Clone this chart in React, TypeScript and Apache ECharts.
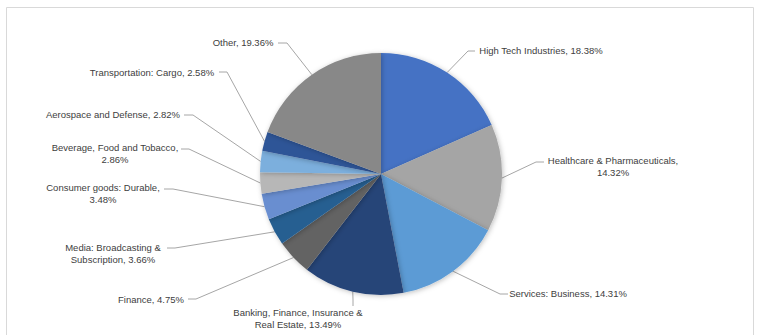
import React, { useEffect, useRef } from "react";
import * as echarts from "echarts";

const categories: string[] = [
  "High Tech Industries",
  "Healthcare & Pharmaceuticals",
  "Services: Business",
  "Banking, Finance, Insurance & Real Estate",
  "Finance",
  "Media: Broadcasting & Subscription",
  "Consumer goods: Durable",
  "Beverage, Food and Tobacco",
  "Aerospace and Defense",
  "Transportation: Cargo",
  "Other",
];

const shares: number[] = [18.38, 14.32, 14.31, 13.49, 4.75, 3.66, 3.48, 2.86, 2.82, 2.58, 19.36];

const sliceColors: string[] = [
  "#4472C4",
  "#A5A5A5",
  "#5B9BD5",
  "#264478",
  "#636363",
  "#255E91",
  "#698ED0",
  "#B7B7B7",
  "#7CAFDD",
  "#2F5597",
  "#888888",
];

// where each label wraps onto a second line ("" = break before value, null = no wrap)
const wrapAfter: (string | null)[] = [
  null,
  "",
  null,
  "Insurance &",
  null,
  "Broadcasting &",
  "",
  "",
  null,
  null,
  null,
];

// label layout: text centre (cx, cy), line end (ax, ay), elbow (ex, ey)
const labelSpots: number[][] = [
  [541, 50, 475, 51, 468, 51],
  [613, 166, 544, 162, 536, 162],
  [568, 293, 508, 294, 500, 294],
  [298, 318, 353, 306, 353, 300],
  [151, 299, 188, 299, 196, 299],
  [113, 253, 167, 248, 175, 248],
  [103, 193, 164, 189, 173, 189],
  [115, 153, 181, 149, 189, 149],
  [113, 114, 184, 115, 193, 115],
  [152, 72, 219, 72, 227, 72],
  [243, 42, 278, 43, 287, 43],
];

function labelText(i: number): string {
  const name = categories[i];
  const val = shares[i].toFixed(2) + "%";
  const w = wrapAfter[i];
  if (w === null) return `${name}, ${val}`;
  if (w === "") return `${name},\n${val}`;
  const k = name.indexOf(w) + w.length;
  return `${name.slice(0, k)}\n${name.slice(k).trim()}, ${val}`;
}

export default function App() {
  const ref = useRef<HTMLDivElement>(null);
  useEffect(() => {
    document.body.style.margin = "0";
    if (!ref.current) return;
    const chart = echarts.init(ref.current, null, { renderer: "svg" });
    chart.setOption({
      animation: false,
      backgroundColor: "#ffffff",
      graphic: [
        {
          type: "rect",
          shape: { x: 6.5, y: 7.5, width: 747, height: 340 },
          style: { fill: "none", stroke: "#D9D9D9", lineWidth: 1 },
          silent: true,
        },
      ],
      series: [
        {
          type: "pie",
          center: [381, 174],
          radius: 121,
          startAngle: 90,
          clockwise: true,
          avoidLabelOverlap: false,
          data: categories.map((c, i) => ({
            name: c,
            value: shares[i],
            itemStyle: { color: sliceColors[i] },
          })),
          itemStyle: {
            borderWidth: 0,
            shadowBlur: 5,
            shadowColor: "rgba(0,0,0,0.25)",
            shadowOffsetX: 1,
            shadowOffsetY: 1,
          },
          label: {
            show: true,
            position: "outside",
            formatter: (p: any) => labelText(p.dataIndex),
            fontFamily: "Liberation Sans",
            fontSize: 9.5,
            lineHeight: 12,
            color: "#404040",
            align: "center",
          },
          labelLine: {
            show: true,
            length: 10,
            length2: 10,
            lineStyle: { color: "#A6A6A6", width: 1 },
          },
          labelLayout: (params: any) => {
            const s = labelSpots[params.dataIndex];
            const pts = params.labelLinePoints;
            const p0 = pts && pts[0] ? pts[0] : [s[4], s[5]];
            return {
              x: s[0],
              y: s[1],
              align: "center",
              verticalAlign: "middle",
              labelLinePoints: [
                [p0[0], p0[1]],
                [s[4], s[5]],
                [s[2], s[3]],
              ],
            };
          },
          emphasis: { disabled: true },
        },
      ],
    });
    return () => chart.dispose();
  }, []);
  return <div ref={ref} style={{ width: 759, height: 335 }} />;
}
